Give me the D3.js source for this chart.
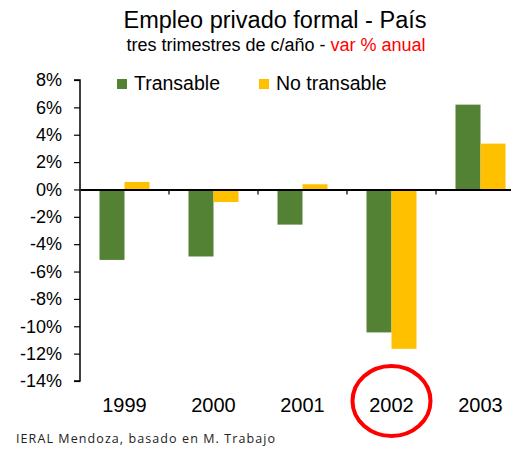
<!DOCTYPE html>
<html>
<head>
<meta charset="utf-8">
<script src="https://cdn.jsdelivr.net/npm/d3@7"></script>
<style>
  body { margin: 0; background: #fff; }
  text { font-family: "Liberation Sans", Arial, sans-serif; fill: #000; }
</style>
</head>
<body>
<svg id="chart" width="511" height="451"></svg>
<script>
// data
const years = ["1999", "2000", "2001", "2002", "2003"];
const transable = [-5.15, -4.9, -2.57, -10.45, 6.2];
const noTransable = [0.55, -0.92, 0.38, -11.65, 3.35];
const seriesNames = ["Transable", "No transable"];
const seriesColors = ["#548235", "#FFC000"];
const yTicks = [8, 6, 4, 2, 0, -2, -4, -6, -8, -10, -12, -14];

const svg = d3.select("#chart");

// plot box
const plotLeft = 80, plotRight = 525, plotTop = 80, plotBottom = 381;

const x = d3.scaleBand().domain(years).range([plotLeft, plotRight]).padding(0);
const y = d3.scaleLinear().domain([-14, 8]).range([plotBottom, plotTop]);
const barW = 25;

// titles
svg.append("text")
   .attr("x", 275).attr("y", 28)
   .attr("text-anchor", "middle")
   .style("font-size", "23.5px")
   .text("Empleo privado formal - País");

const sub = svg.append("text")
   .attr("x", 276).attr("y", 51)
   .attr("text-anchor", "middle")
   .style("font-size", "18px");
sub.append("tspan").text("tres trimestres de c/año - ");
sub.append("tspan").style("fill", "#FF0000").text("var % anual");

// bars
const series = [transable, noTransable];
series.forEach((vals, s) => {
  svg.append("g").selectAll("rect")
     .data(vals)
     .join("rect")
     .attr("x", (d, i) => x(years[i]) + x.bandwidth() / 2 - barW + s * barW)
     .attr("y", d => y(Math.max(0, d)))
     .attr("width", barW)
     .attr("height", d => Math.abs(y(d) - y(0)))
     .attr("fill", seriesColors[s]);
});

// y axis
const yAxis = svg.append("g")
   .attr("transform", "translate(" + plotLeft + ",0)")
   .call(d3.axisLeft(y).tickValues(yTicks).tickSize(6).tickPadding(12)
          .tickFormat(d => d + "%"));
yAxis.select(".domain").attr("d", "M-6," + y(8) + "H0V" + y(-14) + "H-6")
     .attr("stroke", "#000").attr("stroke-width", 1.5);
yAxis.selectAll(".tick line").attr("stroke", "#000").attr("stroke-width", 1.2);
yAxis.selectAll(".tick text")
     .style("font-size", "18px")
     .style("font-family", "'Liberation Sans', Arial, sans-serif");

// zero line with category ticks
const xAxis = svg.append("g")
   .attr("transform", "translate(0," + y(0) + ")")
   .call(d3.axisBottom(x).tickSize(0).tickFormat(""));
xAxis.select(".domain").attr("stroke", "#000").attr("stroke-width", 2);
xAxis.selectAll(".tick").remove();
xAxis.selectAll(".sep")
     .data(years.slice(1))
     .join("line")
     .attr("x1", d => x(d)).attr("x2", d => x(d))
     .attr("y1", 0).attr("y2", 5)
     .attr("stroke", "#000").attr("stroke-width", 1.2);

// category labels below the plot
svg.append("g").selectAll("text")
   .data(years)
   .join("text")
   .attr("x", d => x(d) + x.bandwidth() / 2)
   .attr("y", 412)
   .attr("text-anchor", "middle")
   .style("font-size", "20px")
   .text(d => d);

// legend
const legendX = [117, 259];
const legend = svg.append("g").selectAll("g")
   .data(seriesNames)
   .join("g")
   .attr("transform", (d, i) => "translate(" + legendX[i] + ",79)");
legend.append("rect").attr("width", 10).attr("height", 10)
      .attr("fill", (d, i) => seriesColors[i]);
legend.append("text").attr("x", 17).attr("y", 11)
      .style("font-size", "19.5px").text(d => d);

// red circle around 2002
svg.append("ellipse")
   .attr("cx", x("2002") + x.bandwidth() / 2)
   .attr("cy", 401)
   .attr("rx", 39).attr("ry", 35)
   .attr("fill", "none")
   .attr("stroke", "#FF0000")
   .attr("stroke-width", 4);

// source
svg.append("text")
   .attr("x", 16).attr("y", 443)
   .attr("textLength", 259)
   .attr("lengthAdjust", "spacing")
   .style("font-size", "12.5px")
   .style("font-family", "'Open Sans', sans-serif")
   .style("fill", "#222")
   .text("IERAL Mendoza, basado en M. Trabajo");
</script>
</body>
</html>
